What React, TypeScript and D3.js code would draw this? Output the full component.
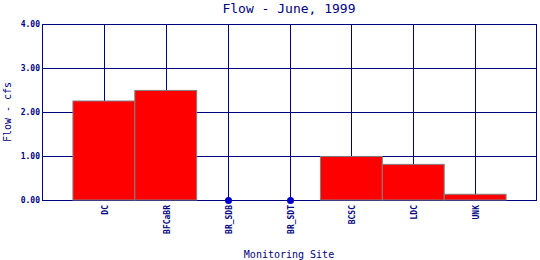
import React from "react";
import * as d3 from "d3";

const categories = ["DC", "BFCaBR", "BR_SDB", "BR_SDT", "BCSC", "LDC", "UNK"];
const flows = [2.25, 2.49, 0, 0, 0.99, 0.81, 0.13];
const yTicks = [0, 1, 2, 3, 4];
const title = "Flow - June, 1999";
const xTitle = "Monitoring Site";
const yTitle = "Flow - cfs";

const W = 540, H = 260;
const M = { left: 42, right: 3, top: 24, bottom: 60 };
const NAVY = "#000080";
const FONT = "'DejaVu Sans Mono', monospace";

export default function App() {
  const x = d3.scaleLinear().domain([0, categories.length + 1]).range([M.left, W - M.right]);
  const y = d3.scaleLinear().domain([0, 4]).range([H - M.bottom, M.top]);
  const step = x(1) - x(0);
  return (
    <svg width={W} height={H} style={{ position: "absolute", left: 0, top: 0, background: "#fff" }}>
      <rect x={0} y={0} width={W} height={H} fill="#fff" />
      <text x={289} y={13} textAnchor="middle" fontFamily={FONT} fontSize={13} fill={NAVY}>{title}</text>
      {/* gridlines */}
      {yTicks.map((t) => (
        <line key={"h" + t} x1={x(0)} x2={x(categories.length + 1)} y1={y(t) + 0.5} y2={y(t) + 0.5} stroke={NAVY} strokeWidth={1} />
      ))}
      {categories.map((c, i) => (
        <line key={"v" + c} x1={Math.round(x(i + 1)) + 0.5} x2={Math.round(x(i + 1)) + 0.5} y1={y(4)} y2={y(0)} stroke={NAVY} strokeWidth={1} />
      ))}
      <line x1={x(0) + 0.5} x2={x(0) + 0.5} y1={y(4)} y2={y(0)} stroke={NAVY} />
      <line x1={x(8) - 0.5} x2={x(8) - 0.5} y1={y(4)} y2={y(0)} stroke={NAVY} />
      {/* bars */}
      {categories.map((c, i) =>
        flows[i] > 0 ? (
          <rect key={"b" + c} x={x(i + 1) - step / 2} y={y(flows[i])} width={step} height={y(0) - y(flows[i])} fill="#ff0000" stroke="#808080" strokeWidth={1} />
        ) : (
          <circle key={"d" + c} cx={Math.round(x(i + 1)) + 0.5} cy={y(0) + 0.5} r={3.5} fill="#0000cc" />
        )
      )}
      {/* y tick labels */}
      {yTicks.map((t) => (
        <text key={"yl" + t} x={x(0) - 2} y={y(t) + 3} textAnchor="end" fontFamily={FONT} fontSize={8} fontWeight="bold" fill={NAVY}>{t.toFixed(2)}</text>
      ))}
      {/* x tick labels */}
      {categories.map((c, i) => (
        <text key={"xl" + c} transform={`translate(${Math.round(x(i + 1)) + 3.5},${y(0) + 5}) rotate(-90)`} textAnchor="end" fontFamily={FONT} fontSize={8} fontWeight="bold" fill={NAVY}>{c}</text>
      ))}
      <text x={289} y={258} textAnchor="middle" fontFamily={FONT} fontSize={10} fill={NAVY}>{xTitle}</text>
      <text transform={`translate(11,112) rotate(-90)`} textAnchor="middle" fontFamily={FONT} fontSize={10} fill={NAVY}>{yTitle}</text>
    </svg>
  );
}
